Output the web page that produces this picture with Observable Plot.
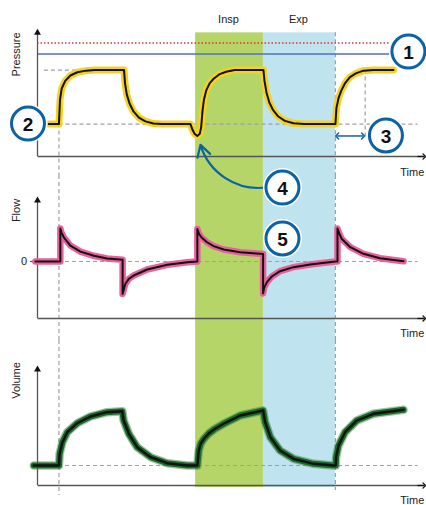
<!DOCTYPE html>
<html><head><meta charset="utf-8">
<script src="https://cdn.jsdelivr.net/npm/d3@7"></script>
<script src="https://cdn.jsdelivr.net/npm/@observablehq/plot@0.6"></script>
<style>
body{margin:0;background:#fff;}
#chart svg{display:block;overflow:visible;}
</style></head><body><div id="chart"></div>
<script>
// ---- data (time in s) ----
const phaseLabels = ["Insp", "Exp"];
const phaseStart = [4.57, 6.53];
const phaseEnd = [6.53, 8.61];
const breathStart = [0.62, 8.61];

const pressureT = [0.32,0.62,0.65,0.70,0.80,0.95,1.15,1.40,1.65,2.50,2.53,2.58,2.66,2.78,2.93,3.12,3.35,3.60,4.42,4.47,4.54,4.62,4.69,4.73,4.77,4.81,4.88,4.98,5.09,5.25,5.45,5.70,6.53,6.56,6.62,6.70,6.80,6.96,7.15,7.40,7.70,8.61,8.64,8.70,8.78,8.89,9.03,9.20,9.42,9.70,10.29];
const pressureP = [6,6,10.5,12.6,14.0,15.0,15.6,15.9,16.0,16.0,13.5,11.5,9.8,8.3,7.2,6.5,6.1,6.0,6.0,5.1,4.2,3.8,4.2,5.4,8.5,10.5,12.3,13.6,14.4,15.2,15.7,16.0,16.0,14.0,11.8,10.0,8.7,7.4,6.6,6.15,6.0,6.0,9.0,10.8,12.2,13.6,14.7,15.4,15.9,16.0,16.0];
const peep = 6, plateau = 16, limitHigh = 19, alarmHigh = 21;

const flowT = [-0.06,0.66,0.66,0.69,0.76,0.95,1.24,1.63,2.01,2.46,2.46,2.51,2.54,2.64,2.78,3.17,3.75,4.33,4.62,4.62,4.67,4.75,4.90,5.09,5.38,5.86,6.52,6.52,6.55,6.63,6.77,7.01,7.40,7.88,8.36,8.62,8.67,8.67,8.72,8.79,9.04,9.42,9.90,10.58];
const flowF = [0,0,60,53,44,29,18,10.4,5.5,3,-59,-46.7,-40.5,-31.5,-25.5,-14.5,-6,-1.3,0,59,50,43,35,28,21.8,16.9,13.5,-58,-48,-37.6,-27.3,-17.6,-10.3,-5.5,-1.8,0,0,60,51,41.3,26,14,6,0.5];

const volumeT = [-0.11,0.62,0.64,0.72,0.86,1.15,1.53,2.01,2.45,2.49,2.64,2.88,3.27,3.75,4.33,4.62,4.66,4.72,4.81,4.95,5.12,5.38,5.86,6.52,6.58,6.73,7.01,7.40,7.98,8.55,8.62,8.63,8.70,8.89,9.23,9.71,10.58];
const volumeV = [200,200,317,433,533,623,690,733,743,650,517,383,283,223,200,200,350,420,467,520,565,617,700,750,633,483,350,267,217,200,200,283,400,533,650,717,757];
const volBase = 200;

const axisTitles = ["Pressure", "Flow", "Volume"];
const timeLabel = "Time";
const calloutLabels = ["1", "2", "3", "4", "5"];

// ---- helpers ----
const pressure = pressureT.map((t, i) => ({t, v: pressureP[i]}));
const flow = flowT.map((t, i) => ({t, v: flowF[i]}));
const volume = volumeT.map((t, i) => ({t, v: volumeV[i]}));
const phases = phaseLabels.map((label, i) => ({label, x1: phaseStart[i], x2: phaseEnd[i], fill: i === 0 ? "#b5d568" : "#bfe3ef"}));

const xDomain = [-1.0694, 11.2428];
const xEnd = 11.18;
const FONT = "Liberation Sans, Arial, Helvetica, sans-serif";
const BLUE = "#0c62a6";
const DASH = {stroke: "#a0a0a0", strokeDasharray: "4,3", strokeWidth: 1.2};
const AX = "#555";
const CURVE = "linear";

function bands(y1, y2) {
  const o = {x1: "x1", x2: "x2", fill: "fill"};
  if (y1 != null) { o.y1 = () => y1; o.y2 = () => y2; }
  return Plot.rect(phases, o);
}
function callout(label, x, y) {
  return [
    Plot.dot([label], {x: () => x, y: () => y, r: 19.5, fill: "white"}),
    Plot.dot([label], {x: () => x, y: () => y, r: 16.5, fill: "white", stroke: BLUE, strokeWidth: 3}),
    Plot.text([label], {x: () => x, y: () => y, text: d => d, fontSize: 19, fontWeight: "bold", fill: "#111", dy: 1})
  ];
}
function axes(y0, yTop) {
  return [
    Plot.ruleX([0], {y1: y0, y2: yTop, stroke: AX, strokeWidth: 1.3}),
    Plot.dot([0], {x: 0, y: yTop, symbol: "triangle2", r: 3.3, fill: "#111"}),
    Plot.link([0], {x1: 0, x2: xEnd, y1: y0, y2: y0, stroke: AX, strokeWidth: 1.3}),
    Plot.link([0], {x1: xEnd - 0.2, x2: xEnd, y1: y0, y2: y0, stroke: "#111", strokeWidth: 1.3, markerEnd: "arrow"})
  ];
}
function panel(height, yDomain, marks) {
  return Plot.plot({
    width: 426, height, margin: 0,
    x: {domain: xDomain, axis: null},
    y: {domain: yDomain, axis: null},
    color: {type: "identity"},
    style: {background: "transparent", overflow: "visible", fontFamily: FONT, fontSize: "11px", color: "#222"},
    marks
  });
}
const wave = (data, color, w, bw) => [
  Plot.line(data, {x: "t", y: "v", curve: CURVE, stroke: color, strokeWidth: w, strokeLinejoin: "round", strokeLinecap: "round"}),
  Plot.line(data, {x: "t", y: "v", curve: CURVE, stroke: "#111", strokeWidth: bw, strokeLinejoin: "round", strokeLinecap: "round"})
];

// ---- Pressure panel ----
const pBottom = -3.52, pTop = 28.89, pAxisTop = 22.9;
const riseMid = 9.035;
const p1 = panel(175, [pBottom, pTop], [
  bands(pAxisTop, pBottom),
  Plot.ruleX([breathStart[0]], {y1: peep, y2: pBottom, ...DASH}),
  Plot.ruleX([breathStart[1]], {y1: pAxisTop, y2: pBottom, ...DASH}),
  Plot.ruleY([plateau], {x1: 0.2, x2: 1.3, ...DASH}),
  Plot.ruleY([peep], {x1: 0.62, x2: 11.0, ...DASH}),
  Plot.ruleX([9.47], {y1: plateau, y2: 3.5, ...DASH}),
  Plot.ruleY([alarmHigh], {x1: 0, x2: 10.2, stroke: "#e3342f", strokeWidth: 1.5, strokeDasharray: "1.5,2"}),
  Plot.ruleY([limitHigh], {x1: 0, x2: 10.2, stroke: "#5070c4", strokeWidth: 1.5}),
  ...axes(0, pAxisTop),
  ...wave(pressure, "#f6d21e", 7, 2),
  Plot.text(phases, {x: d => (d.x1 + d.x2) / 2 - 0.03, y: () => 25.4, text: "label", fontSize: 11, fill: "#222"}),
  Plot.text([axisTitles[0]], {x: () => -0.6, y: () => 18.9, text: d => d, rotate: -90, fontSize: 11, fill: "#222"}),
  Plot.text([timeLabel], {x: () => xEnd, y: () => -2.96, text: d => d, textAnchor: "end", fontSize: 11, fill: "#222"}),
  Plot.link([8.66, 9.41], {x1: () => riseMid, x2: d => d, y1: () => 3.8, y2: () => 3.8, stroke: BLUE, strokeWidth: 1.5, markerEnd: "arrow"}),
  ...callout(calloutLabels[0], 10.72, 19.44),
  ...callout(calloutLabels[1], -0.275, 6.1),
  ...callout(calloutLabels[2], 10.07, 3.9)
]);

// ---- Flow panel ----
const fBottom = -143.64, fTop = 156.36, fAxis = -103.6, fAxisTop = 111;
const p2 = panel(165, [fBottom, fTop], [
  bands(null, null),
  Plot.ruleX(breathStart, {...DASH}),
  Plot.ruleY([0], {x1: 0, x2: 11.0, ...DASH}),
  Plot.ruleY([0], {x1: -0.2, x2: 0, stroke: AX, strokeWidth: 1.3}),
  Plot.text(["0"], {x: () => -0.3, y: () => 0, text: d => d, textAnchor: "end", fontSize: 11, fill: "#222"}),
  ...axes(fAxis, fAxisTop),
  ...wave(flow, "#e9609c", 6.5, 2),
  Plot.text([axisTitles[1]], {x: () => -0.6, y: () => 92.7, text: d => d, rotate: -90, fontSize: 11, fill: "#222"}),
  Plot.text([timeLabel], {x: () => xEnd, y: () => -130.9, text: d => d, textAnchor: "end", fontSize: 11, fill: "#222"}),
  Plot.arrow([0], {x1: 6.6, y1: 134.5, x2: 4.71, y2: 212, bend: 40, stroke: BLUE, strokeWidth: 2.2, headLength: 9}),
  ...callout(calloutLabels[3], 7.08, 134.5),
  ...callout(calloutLabels[4], 7.08, 41.8)
]);

// ---- Volume panel ----
const vBottom = -200, vTop = 1450, vAxisTop = 1160;
const p3 = panel(165, [vBottom, vTop], [
  bands(vTop, -20),
  Plot.ruleX([breathStart[0]], {y1: vTop, y2: -100, ...DASH}),
  Plot.ruleX([breathStart[1]], {y1: vTop, y2: -50, ...DASH}),
  Plot.ruleY([volBase], {x1: 0, x2: 11.0, ...DASH}),
  ...axes(0, vAxisTop),
  Plot.line(volume, {x: "t", y: "v", curve: CURVE, stroke: "#2d7d38", strokeWidth: 8.5, strokeOpacity: 0.45, strokeLinejoin: "round", strokeLinecap: "round"}),
  ...wave(volume, "#1c6a29", 6, 2.4),
  Plot.text([axisTitles[2]], {x: () => -0.6, y: () => 1050, text: d => d, rotate: -90, fontSize: 11, fill: "#222"}),
  Plot.text([timeLabel], {x: () => xEnd, y: () => -150, text: d => d, textAnchor: "end", fontSize: 11, fill: "#222"})
]);

const root = document.getElementById("chart");
root.append(p1, p2, p3);
</script></body></html>
